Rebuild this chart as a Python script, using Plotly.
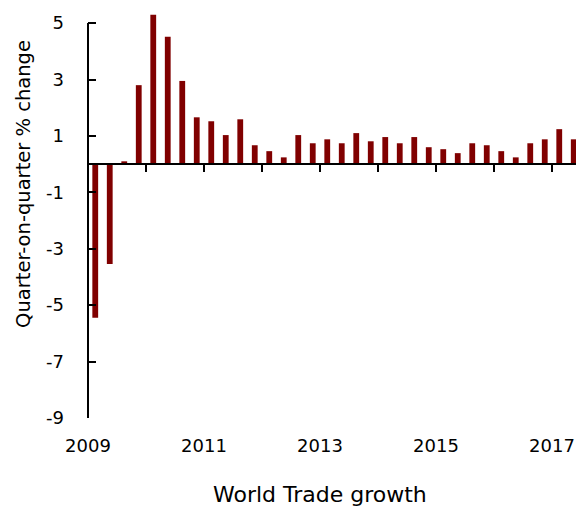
import plotly.graph_objects as go

years = [2009, 2010, 2011, 2012, 2013, 2014, 2015, 2016, 2017]
quarters_per_year = 4
growth = [
    -5.45, -3.54, 0.10, 2.80,   # 2009
    5.30, 4.52, 2.95, 1.66,     # 2010
    1.52, 1.03, 1.59, 0.67,     # 2011
    0.46, 0.24, 1.03, 0.74,     # 2012
    0.88, 0.74, 1.10, 0.81,     # 2013
    0.96, 0.74, 0.96, 0.60,     # 2014
    0.53, 0.39, 0.74, 0.67,     # 2015
    0.46, 0.24, 0.74, 0.88,     # 2016
    1.24, 0.88,                 # 2017
]
y_ticks = [-9, -7, -5, -3, -1, 1, 3, 5]
x_label_years = [2009, 2011, 2013, 2015, 2017]

# quarter mid-points in fractional years
xq = [years[0] + (i + 0.5) / quarters_per_year for i in range(len(growth))]

y_min, y_max = -9, 5.5
x_min, x_max = 2009, 2017.5
font_family = "'DejaVu Sans', sans-serif"

fig = go.Figure()
fig.add_trace(go.Bar(x=xq, y=growth, width=0.1, marker_color="#800000",
                     marker_line_width=0, showlegend=False))
# dummy trace for bottom label axis
fig.add_trace(go.Scatter(x=[x_min], y=[None], xaxis="x2", mode="markers",
                         showlegend=False, hoverinfo="skip"))

fig.update_layout(
    width=576, height=499,
    margin=dict(l=80, r=3, t=1, b=89),
    plot_bgcolor="white", paper_bgcolor="white",
    font=dict(family=font_family, size=18, color="black"),
    xaxis=dict(
        range=[x_min, x_max], anchor="free",
        position=(0 - y_min) / (y_max - y_min),
        showline=True, linecolor="black", linewidth=2,
        ticks="outside", ticklen=7, tickwidth=2, tickcolor="black",
        tickvals=years[1:], showticklabels=False, showgrid=False, zeroline=False,
    ),
    xaxis2=dict(
        range=[x_min, x_max], overlaying="x", side="bottom", anchor="y",
        showline=False, ticks="", tickvals=x_label_years,
        ticktext=[str(v) for v in x_label_years],
        ticklabelstandoff=15, showgrid=False, zeroline=False,
    ),
    yaxis=dict(
        range=[y_min, y_max], showline=False, showgrid=False, zeroline=False,
        ticks="inside", ticklen=8, tickwidth=2, tickcolor="black",
        tickvals=y_ticks, ticktext=[str(v) for v in y_ticks],
        ticklabelstandoff=23,
    ),
    annotations=[
        dict(text="Quarter-on-quarter % change", textangle=-90,
             xref="paper", yref="y", x=0, y=-0.7, xanchor="center",
             yanchor="middle", xshift=-64,
             showarrow=False, font=dict(size=19.5)),
        dict(text="World Trade growth",
             xref="paper", yref="paper", x=(320 - 88) / (581 - 88), y=0,
             xanchor="center", yanchor="middle", yshift=-76,
             showarrow=False, font=dict(size=22)),
    ],
    shapes=[dict(type="line", xref="paper", yref="y", x0=0, x1=0,
                 y0=y_min, y1=5, line=dict(color="black", width=2))],
)

fig.write_html("out.html")
